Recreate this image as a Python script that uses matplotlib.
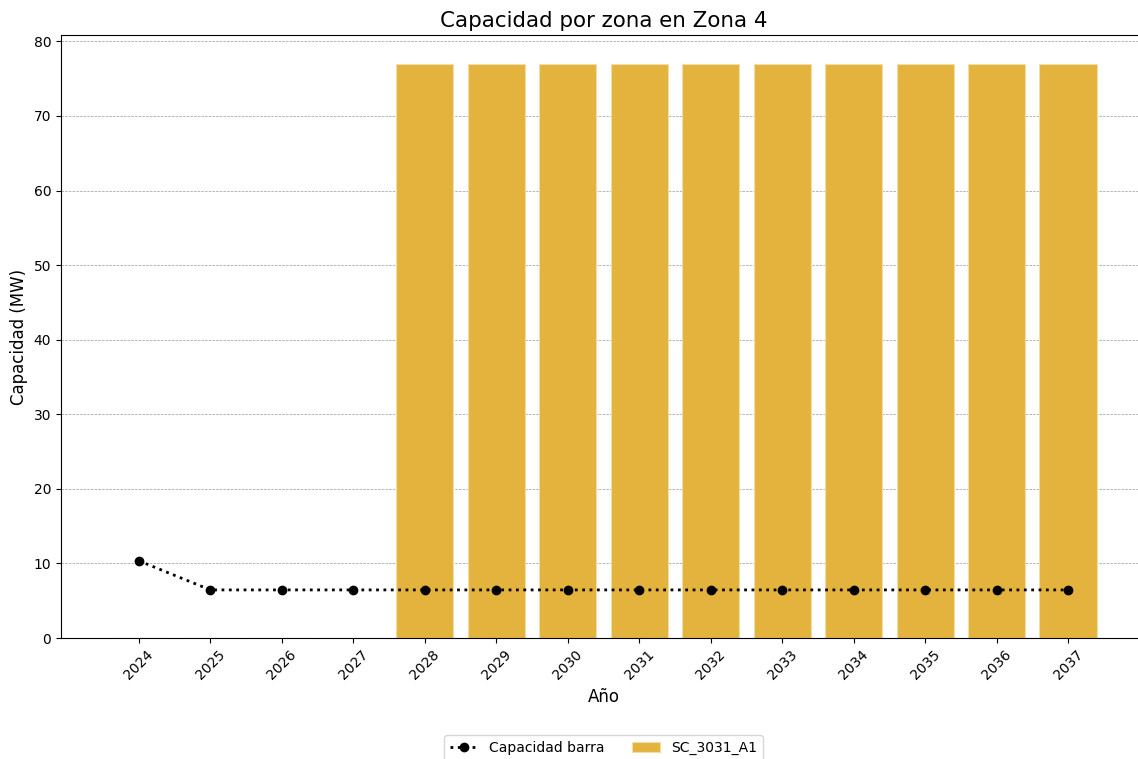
import matplotlib
matplotlib.use("Agg")
import matplotlib.pyplot as plt

years = [2024, 2025, 2026, 2027, 2028, 2029, 2030, 2031, 2032, 2033, 2034, 2035, 2036, 2037]
capacidad_barra = [10.35, 6.45, 6.45, 6.45, 6.45, 6.45, 6.45, 6.45, 6.45, 6.45, 6.45, 6.45, 6.45, 6.45]
sc_3031_a1 = [0, 0, 0, 0, 77, 77, 77, 77, 77, 77, 77, 77, 77, 77]

fig = plt.figure(figsize=(11.38, 7.59), dpi=100)
ax = fig.add_axes([0.0536, 0.1594, 0.9534, 0.7945])

line, = ax.plot(years, capacidad_barra, color="black", linestyle=":", linewidth=2,
                marker="o", markersize=6, label="Capacidad barra", zorder=3)
bars = ax.bar(years, sc_3031_a1, width=0.8, color="#E3B33D", edgecolor="#F3DDA5",
              linewidth=0.8, label="SC_3031_A1", zorder=2)

ax.set_axisbelow(True)
ax.yaxis.grid(True, linestyle="--", color="gray", linewidth=0.5, alpha=0.8)

ax.set_xticks(years)
ax.set_xticklabels([str(y) for y in years], rotation=45)
ax.set_title("Capacidad por zona en Zona 4", fontsize=15.4)
ax.set_xlabel("Año", fontsize=12)
ax.set_ylabel("Capacidad (MW)", fontsize=12)

ax.legend([line, bars], ["Capacidad barra", "SC_3031_A1"], loc="upper center",
          bbox_to_anchor=(0.5, -0.15), ncol=2, fontsize=10, frameon=True)

fig.savefig("out.png", dpi=100)
